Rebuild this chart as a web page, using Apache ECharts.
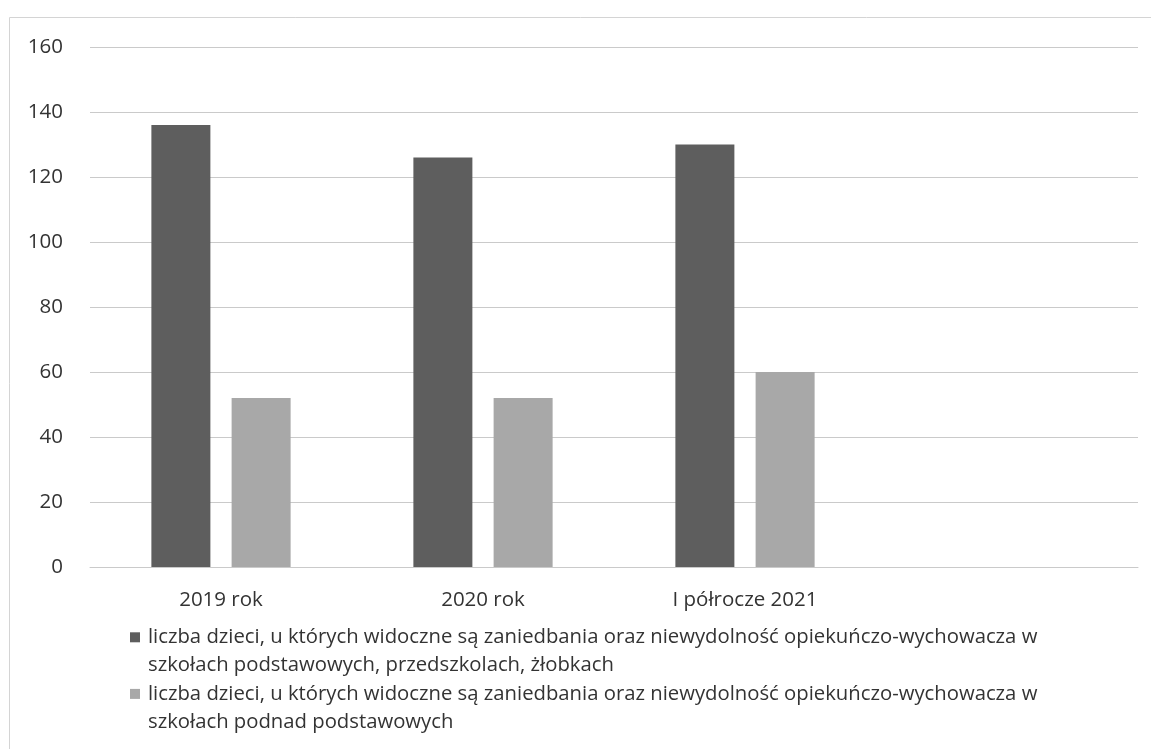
<!DOCTYPE html>
<html>
<head>
<meta charset="utf-8">
<script src="https://cdn.jsdelivr.net/npm/echarts@6/dist/echarts.min.js"></script>
<style>
html,body{margin:0;padding:0;background:#fff;}
#c{width:1151px;height:749px;}
</style>
</head>
<body>
<div id="c"></div>
<script>
const categories = ['2019 rok', '2020 rok', 'I półrocze 2021', ''];
const seriesNames = [
  'liczba dzieci, u których widoczne są zaniedbania oraz niewydolność opiekuńczo-wychowacza w\nszkołach podstawowych, przedszkolach, żłobkach',
  'liczba dzieci, u których widoczne są zaniedbania oraz niewydolność opiekuńczo-wychowacza w\nszkołach podnad podstawowych'
];
const primaryValues = [136, 126, 130, null];
const secondaryValues = [52, 52, 60, null];
const yMin = 0, yMax = 160, yStep = 20;

const FONT = '"Open Sans", "Noto Sans", sans-serif';
const chart = echarts.init(document.getElementById('c'), null, {renderer: 'canvas'});
const iconPath = 'path://M0,0 M0,9L10,9L10,19L0,19Z M0,56';
chart.setOption({
  animation: false,
  backgroundColor: '#ffffff',
  graphic: [{
    type: 'rect', shape: {x: 9.5, y: 17.5, width: 1200, height: 800},
    style: {fill: 'none', stroke: '#d4d4d4', lineWidth: 1}, silent: true, z: -1
  }],
  grid: {left: 90, right: 13, top: 47, bottom: 182},
  legend: {
    orient: 'vertical', left: 125, top: 618, itemGap: 0,
    itemWidth: 10, itemHeight: 56, icon: iconPath,
    textStyle: {fontFamily: FONT, fontSize: 20.3, color: '#333', lineHeight: 28.3, padding: [0,0,0,3]},
    data: seriesNames
  },
  xAxis: {
    type: 'category', data: categories,
    axisLine: {show: true, lineStyle: {color: '#cacaca', width: 1}},
    axisTick: {show: false},
    axisLabel: {fontFamily: FONT, fontSize: 20.5, color: '#333', margin: 23, interval: 0}
  },
  yAxis: {
    type: 'value', min: yMin, max: yMax, interval: yStep,
    axisLine: {show: false}, axisTick: {show: false},
    axisLabel: {fontFamily: FONT, fontSize: 20.5, color: '#333', margin: 27},
    splitLine: {lineStyle: {color: '#cacaca', width: 1}}
  },
  series: [
    {name: seriesNames[0], type: 'bar', data: primaryValues, barWidth: 59, barGap: '36%',
     itemStyle: {color: '#5e5e5e'}},
    {name: seriesNames[1], type: 'bar', data: secondaryValues, barWidth: 59,
     itemStyle: {color: '#a8a8a8'}}
  ]
});
</script>
</body>
</html>
